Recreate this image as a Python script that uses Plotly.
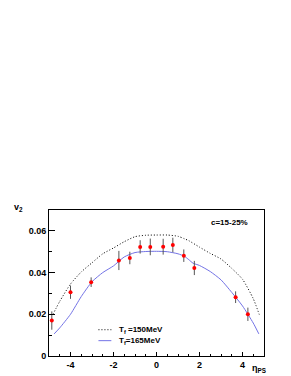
import plotly.graph_objects as go

# measured data
eta_data = [-4.87, -4.0, -3.04, -1.75, -1.24, -0.76, -0.29, 0.31, 0.76, 1.27, 1.76, 3.68, 4.25]
v2_data = [0.0170, 0.0306, 0.0354, 0.0458, 0.0470, 0.0523, 0.0523, 0.0524, 0.0532, 0.0481, 0.0422, 0.0282, 0.0200]
v2_err = [0.0044, 0.0032, 0.0023, 0.0046, 0.0030, 0.0032, 0.0040, 0.0038, 0.0035, 0.0030, 0.0034, 0.0028, 0.0032]

# model curves
eta_t150 = [-4.82, -4.5, -4.0, -3.5, -3.0, -2.5, -2.0, -1.5, -1.0, -0.5, 0.0, 0.5, 1.0, 1.3, 1.5, 2.0, 2.5, 3.0, 3.5, 4.0, 4.5, 4.78]
v2_t150 = [0.0199, 0.0262, 0.0345, 0.0403, 0.0447, 0.0490, 0.0518, 0.0548, 0.0572, 0.0579, 0.0580, 0.0580, 0.0574, 0.0562, 0.0553, 0.0522, 0.0492, 0.0465, 0.0420, 0.0368, 0.0275, 0.0199]
eta_t165 = [-4.76, -4.5, -4.0, -3.5, -3.0, -2.5, -2.0, -1.5, -1.0, -0.5, 0.0, 0.5, 1.0, 1.3, 1.5, 1.7, 2.0, 2.5, 3.0, 3.5, 4.0, 4.5, 4.76]
v2_t165 = [0.0106, 0.0135, 0.0200, 0.0285, 0.0356, 0.0400, 0.0432, 0.0475, 0.0496, 0.0501, 0.0502, 0.0500, 0.0490, 0.0478, 0.0462, 0.0445, 0.0434, 0.0405, 0.0365, 0.0305, 0.0240, 0.0158, 0.0106]

x_tickvals = [-4, -2, 0, 2, 4]
x_ticktext = ["-4", "-2", "0", "2", "4"]
legend_labels = ["T<sub>f</sub>\u00a0=150MeV", "T<sub>f</sub>=165MeV"]
centrality_label = "c=15-25%"

FONT = "Liberation Sans, Arial, sans-serif"
BLUE = "#7373e6"

fig = go.Figure()
fig.add_trace(go.Scatter(x=eta_t150, y=v2_t150, mode="lines",
                         line=dict(color="black", width=1, dash="1px,2px", shape="spline", smoothing=0.6),
                         showlegend=False))
fig.add_trace(go.Scatter(x=eta_t165, y=v2_t165, mode="lines",
                         line=dict(color=BLUE, width=1, shape="spline", smoothing=0.6),
                         showlegend=False))
fig.add_trace(go.Scatter(x=eta_data, y=v2_data, mode="markers",
                         marker=dict(color="red", size=4, line=dict(width=0)),
                         error_y=dict(type="data", array=v2_err, color="#555555", thickness=1, width=0),
                         showlegend=False))

# legend (manual)
fig.add_shape(type="line", xref="paper", yref="paper", x0=0.23, x1=0.29, y0=0.18, y1=0.18,
              line=dict(color="black", width=1, dash="1px,2px"))
fig.add_shape(type="line", xref="paper", yref="paper", x0=0.23, x1=0.29, y0=0.105, y1=0.105,
              line=dict(color=BLUE, width=1))
for yy, lab in zip([0.18, 0.105], legend_labels):
    fig.add_annotation(x=0.316, y=yy, xref="paper", yref="paper", text=lab, showarrow=False,
                       xanchor="left", yanchor="middle",
                       font=dict(family=FONT, size=8, color="black", weight="bold"))

fig.add_annotation(x=0.84, y=0.916, xref="paper", yref="paper", text=centrality_label, showarrow=False,
                   xanchor="center", yanchor="middle",
                   font=dict(family=FONT, size=8, color="black", weight="bold"))
fig.add_annotation(x=-0.14, y=1.02, xref="paper", yref="paper", text="v<sub>2</sub>", showarrow=False,
                   xanchor="center", yanchor="middle",
                   font=dict(family=FONT, size=9, color="black", weight="bold"))
fig.add_annotation(x=0.975, y=-0.085, xref="paper", yref="paper", text="η<sub>PS</sub>", showarrow=False,
                   xanchor="center", yanchor="middle",
                   font=dict(family=FONT, size=9, color="black", weight="bold"))

fig.update_layout(
    width=291, height=376,
    margin=dict(l=40.5, r=35, t=202, b=28),
    paper_bgcolor="white", plot_bgcolor="white",
    font=dict(family=FONT, size=9, color="black", weight="bold"),
)
fig.update_xaxes(range=[-5, 5], tickmode="array", tickvals=x_tickvals, ticktext=x_ticktext,
                 ticks="inside", ticklen=4, tickcolor="black",
                 showgrid=False, zeroline=False, showline=True, linecolor="black", linewidth=1, mirror=True,
                 minor=dict(ticks="inside", tickmode="linear", tick0=0, dtick=0.5, ticklen=2, tickcolor="black"),
                 tickfont=dict(family=FONT, size=9, weight="bold"))
fig.update_yaxes(range=[0, 0.07], dtick=0.02, tick0=0, ticks="inside", ticklen=6, tickcolor="black",
                 showgrid=False, zeroline=False, showline=True, linecolor="black", linewidth=1, mirror=True,
                 minor=dict(ticks="inside", dtick=0.01, ticklen=3, tickcolor="black"),
                 tickfont=dict(family=FONT, size=9, weight="bold"))

fig.write_html("out.html")
